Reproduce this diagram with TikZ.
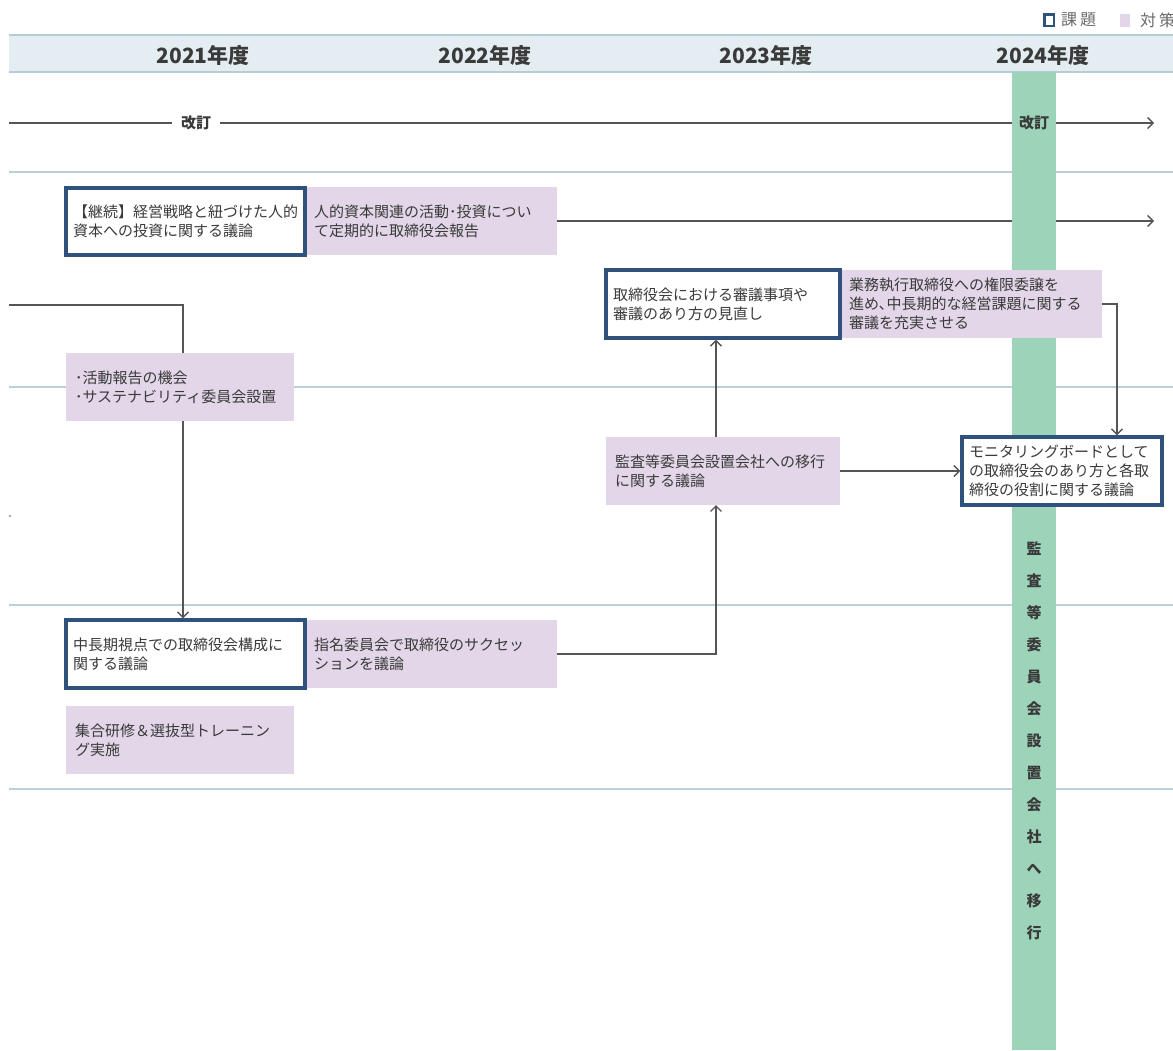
\documentclass[tikz,border=0pt]{standalone}
\usepackage{fontspec}
\setmainfont{Noto Sans CJK JP}
\usetikzlibrary{arrows.meta,calc}
\definecolor{hdr}{HTML}{E4EDF1}
\definecolor{hdrline}{HTML}{B7CBD6}
\definecolor{secline}{HTML}{BACFDA}
\definecolor{issueblue}{HTML}{2F527C}
\definecolor{purp}{HTML}{E2D6E8}
\definecolor{bargreen}{HTML}{9DD4B9}
\definecolor{txt}{HTML}{3A3A3A}
\definecolor{conn}{HTML}{555555}
\definecolor{legtxt}{HTML}{6A6A6A}
\pgfdeclarelayer{bg}
\pgfdeclarelayer{mid}
\pgfsetlayers{bg,mid,main}
\newcommand{\boxfont}{\fontsize{15pt}{19pt}\selectfont}
\newcommand{\yearfont}{\fontsize{21pt}{24pt}\selectfont\bfseries}
\newcommand{\kfont}{\fontsize{15pt}{18pt}\selectfont\bfseries}
\newcommand{\vfont}{\fontsize{15pt}{32pt}\selectfont\bfseries}
\newcommand{\legfont}{\fontsize{16pt}{18pt}\selectfont}
\begin{document}
\begin{tikzpicture}[x=1pt,y=-1pt,
  boxbase/.style={anchor=north west, outer sep=0pt, inner ysep=0pt, align=left, font=\boxfont, text=txt},
  issue/.style={boxbase, inner xsep=7pt, draw=issueblue, line width=3.3pt, fill=white},
  measure/.style={boxbase, inner xsep=9pt, fill=purp},
  conline/.style={draw=conn, line width=1.3pt},
  arr/.style={conline, -{Straight Barb[length=5.5pt,width=11pt]}},
  yearlbl/.style={font=\yearfont, text=txt, inner sep=0pt},
  kaitei/.style={font=\kfont, text=txt, inner sep=0pt, minimum height=18pt},
  secl/.style={draw=secline, line width=2pt}
]
\useasboundingbox (0,0) rectangle (1173,1050);
\clip (0,0) rectangle (1173,1050);

% header band and section lines
\begin{pgfonlayer}{bg}
  \fill[hdr] (9,35) rectangle (1173,72);
  \draw[hdrline, line width=2pt] (9,35) -- (1173,35);
  \draw[hdrline, line width=2pt] (9,72) -- (1173,72);
  \draw[secl] (9,172) -- (1173,172);
  \draw[secl] (9,387) -- (1173,387);
  \draw[secl] (9,605) -- (1173,605);
  \draw[secl] (9,789) -- (1173,789);
\end{pgfonlayer}

% year labels
\node[yearlbl] (y1) at (203,56) {2021年度};
\node[yearlbl] (y2) at (485,56) {2022年度};
\node[yearlbl] (y3) at (766,56) {2023年度};
\node[yearlbl] (y4) at (1043,56) {2024年度};

% legend
\node[draw=issueblue, line width=2.5pt, minimum width=9.5pt, minimum height=11.5pt, inner sep=0pt] (lg1) at (1049,20) {};
\node[anchor=west, font=\legfont, text=legtxt, inner sep=0pt] (lg1t) at (1061,20) {課\kern3pt 題};
\node[fill=purp, minimum width=10pt, minimum height=13pt, inner sep=0pt] (lg2) at (1125,20.5) {};
\node[anchor=west, font=\legfont, text=legtxt, inner sep=0pt] (lg2t) at (1140,20) {対\kern3pt 策};

% green bar
\fill[bargreen] (1012,72) rectangle (1056,1050);
\node[font=\vfont, text=txt, align=center, inner sep=0pt] (vt) at (1034,741)
  {監\\査\\等\\委\\員\\会\\設\\置\\会\\社\\へ\\移\\行};

% revision line
\node[kaitei, minimum width=48pt] (kt1) at (196,123) {改訂};
\node[kaitei, minimum width=44pt] (kt2) at (1034,123) {改訂};
\coordinate (L1) at (9,123);
\coordinate (R1) at (1154,123);
\draw[conline] (L1) -- (kt1);
\draw[conline] (kt1) -- (kt2);
\draw[arr] (kt2) -- (R1);

% boxes
\node[measure, minimum width=252pt, minimum height=68pt, text width=234pt] (m1) at (305,187)
  {人的資本関連の活動･投資につい\\て定期的に取締役会報告};
\node[issue, minimum width=239pt, minimum height=67pt, text width=225pt] (k1) at (66,188)
  {【継続】経営戦略と紐づけた人的\\資本への投資に関する議論};

\node[measure, minimum width=262pt, minimum height=68pt, text width=244pt] (m2) at (840,270)
  {業務執行取締役への権限委譲を\\進め､中長期的な経営課題に関する\\審議を充実させる};
\node[issue, minimum width=234pt, minimum height=68pt, text width=220pt] (a1) at (606,270)
  {取締役会における審議事項や\\審議のあり方の見直し};

\node[measure, minimum width=228pt, minimum height=68pt, text width=210pt] (m4) at (66,353)
  {･活動報告の機会\\･サステナビリティ委員会設置};

\node[measure, minimum width=234pt, minimum height=68pt, text width=216pt] (m3) at (606,437)
  {監査等委員会設置会社への移行\\に関する議論};
\node[issue, minimum width=200pt, minimum height=68pt, text width=186pt] (mon) at (962,437)
  {モニタリングボードとして\\の取締役会のあり方と各取\\締役の役割に関する議論};

\node[measure, minimum width=252pt, minimum height=68pt, text width=234pt] (m5) at (305,620)
  {指名委員会で取締役のサクセッ\\ションを議論};
\node[issue, minimum width=239pt, minimum height=68pt, text width=225pt] (c1) at (66,620)
  {中長期視点での取締役会構成に\\関する議論};

\node[measure, minimum width=228pt, minimum height=68pt, text width=210pt] (m6) at (66,706)
  {集合研修＆選抜型トレーニン\\グ実施};

% connectors
\coordinate (R2) at (1154,221);
\begin{pgfonlayer}{mid}
  \draw[arr] (m1.east) -- (R2);
\end{pgfonlayer}

\coordinate (L2) at (9,305);
\coordinate (j1) at (183,305);
\draw[conline] (L2) -- (j1) -- (j1 |- m4.north);
\draw[arr, shorten >=1.7pt] (m4.south -| j1) -- (c1.north -| j1);

\coordinate (j2) at (716,0);
\draw[arr] (m5.east) -| (j2 |- m3.south);
\draw[arr, shorten >=1.7pt] (m3.north -| j2) -- (a1.south -| j2);
\draw[arr, shorten >=1.7pt] (m3.east) -- (mon.west);

\coordinate (j3) at (1117,0);
\draw[arr, shorten >=1.7pt] (m2.east) -| (j3 |- mon.north);

% stray mark at left edge
\fill[conn] (10,516) circle (0.9pt);
\end{tikzpicture}
\end{document}
